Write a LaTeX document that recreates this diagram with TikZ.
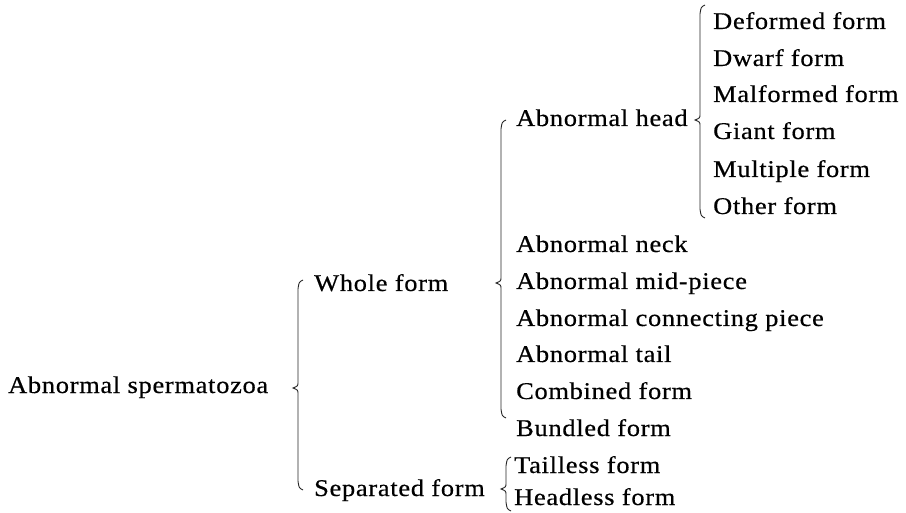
\documentclass[tikz,border=0pt]{standalone}
\usepackage{fontspec}
\setmainfont{Liberation Serif}[FakeStretch=1.1,LetterSpace=3,FakeBold=0.5]
\begin{document}
\begin{tikzpicture}[x=1pt,y=-1pt,
  lbl/.style={anchor=base west,inner sep=0pt,font=\fontsize{24}{28}\selectfont},
  br/.style={line width=0.9pt,black!85}]
\useasboundingbox (0,0) rectangle (906,513);
% brace: x, top, tip, bottom
\newcommand\mybrace[4]{\draw[br] (#1+5,#2) .. controls (#1+1,#2+2) .. (#1,#2+9) -- (#1,#3-6) .. controls (#1,#3-2) .. (#1-5,#3) .. controls (#1,#3+2) .. (#1,#3+6) -- (#1,#4-9) .. controls (#1+1,#4-2) .. (#1+5,#4);}
\node[lbl] (root) at (8,393) {Abnormal spermatozoa};
\node[lbl] (whole) at (314,291) {Whole form};
\node[lbl] (sep) at (314,496) {Separated form};
\node[lbl] (head) at (516,126) {Abnormal head};
\node[lbl] (neck) at (516,252) {Abnormal neck};
\node[lbl] (mid) at (516,289) {Abnormal mid-piece};
\node[lbl] (conn) at (516,326) {Abnormal connecting piece};
\node[lbl] (tail) at (516,362) {Abnormal tail};
\node[lbl] (comb) at (516,399) {Combined form};
\node[lbl] (bund) at (516,436) {Bundled form};
\node[lbl] (def) at (713,29) {Deformed form};
\node[lbl] (dwarf) at (713,66) {Dwarf form};
\node[lbl] (malf) at (713,102) {Malformed form};
\node[lbl] (giant) at (713,139) {Giant form};
\node[lbl] (mult) at (713,177) {Multiple form};
\node[lbl] (other) at (713,214) {Other form};
\node[lbl] (taill) at (514,473) {Tailless form};
\node[lbl] (headl) at (514,505) {Headless form};
\mybrace{298}{280}{388}{490}
\mybrace{501}{120}{283}{418}
\mybrace{700}{5}{120}{218}
\mybrace{506}{457}{489}{511}
\end{tikzpicture}
\end{document}
